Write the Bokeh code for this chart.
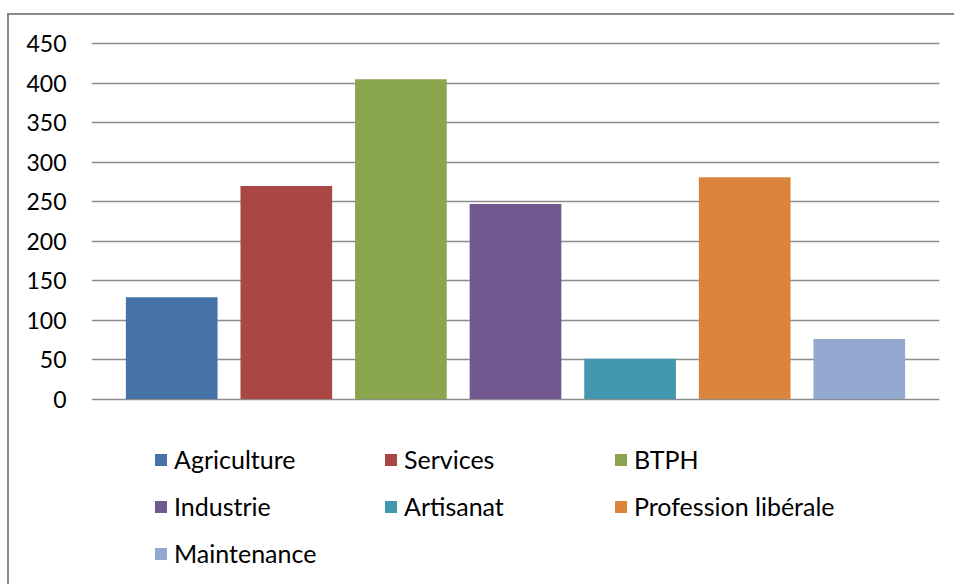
from bokeh.plotting import figure
from bokeh.models import (ColumnDataSource, FactorRange, Range1d, FixedTicker,
                          Legend, LegendItem)
from bokeh.embed import file_html
from bokeh.resources import INLINE

categories = ["Agriculture", "Services", "BTPH", "Industrie", "Artisanat",
              "Profession libérale", "Maintenance"]
values = [129, 270, 405, 247, 51, 281, 76]
colors = ["#4572A7", "#AA4643", "#89A54E", "#71588F", "#4198AF",
          "#DB843D", "#93A9CF"]
y_ticks = [0, 50, 100, 150, 200, 250, 300, 350, 400, 450]

FONT = "Lato"
GRID = "#8c8c8c"

source = ColumnDataSource(dict(cat=categories, val=values, color=colors))

p = figure(
    x_range=FactorRange(*categories, range_padding=0.2,
                        range_padding_units="absolute"),
    y_range=Range1d(-234.9, 452.9),
    frame_width=848, frame_height=543,
    min_border_left=82, min_border_right=15,
    min_border_top=26, min_border_bottom=0,
    output_backend="svg", toolbar_location=None,
)
p.margin = (13, 0, 0, 7)
p.styles = {"border-top": "2px solid #8a8a8a", "border-left": "2px solid #8a8a8a"}
p.outline_line_color = None
p.background_fill_color = "white"
p.border_fill_color = "white"

r = p.vbar(x="cat", top="val", width=0.8, bottom=0, color="color",
           line_color=None, source=source)

p.xaxis.visible = False
p.xgrid.visible = False
p.ygrid.ticker = FixedTicker(ticks=y_ticks)
p.ygrid.grid_line_color = GRID
p.ygrid.grid_line_width = 1.5

p.yaxis.ticker = FixedTicker(ticks=y_ticks)
p.yaxis.axis_line_color = None
p.yaxis.major_tick_line_color = None
p.yaxis.minor_tick_line_color = None
p.yaxis.major_tick_in = 0
p.yaxis.major_tick_out = 0
p.yaxis.major_label_standoff = 25
p.yaxis.major_label_text_font = FONT
p.yaxis.major_label_text_font_size = "23px"
p.yaxis.major_label_text_color = "black"

cols = [[0, 3, 6], [1, 4], [2, 5]]
xs = [62, 292, 522]
vys = [31 - 15, 78 - 15, 78 - 15]
H = 30
S = 17
for col, x, vy in zip(cols, xs, vys):
    items = [LegendItem(label=categories[i], renderers=[r], index=i) for i in col]
    leg = Legend(items=items, location=(x, vy), orientation="vertical",
                 glyph_width=15, glyph_height=15, label_standoff=6,
                 label_height=H, spacing=S, padding=0, margin=0,
                 border_line_alpha=0, background_fill_alpha=0,
                 label_text_font=FONT, label_text_font_size="25px",
                 label_text_color="black")
    p.add_layout(leg, "center")

open("out.html", "w").write(file_html(p, INLINE))
